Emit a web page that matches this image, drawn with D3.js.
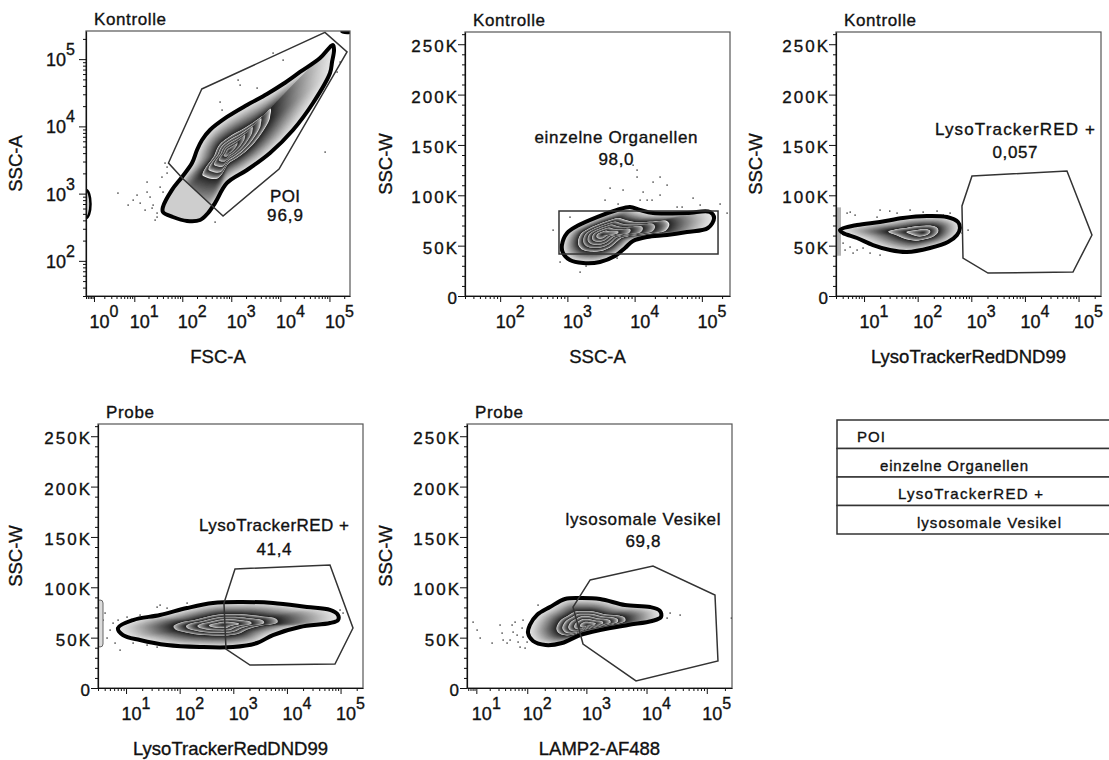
<!DOCTYPE html>
<html>
<head>
<meta charset="utf-8">
<script src="https://cdn.jsdelivr.net/npm/d3@7"></script>
<style>
  body { margin: 0; background: #fff; }
  svg { display: block; font-family: "Liberation Sans", Arial, sans-serif; }
  text { fill: #111; stroke: #111; stroke-width: 0.35px; }
</style>
</head>
<body>
<svg id="chart" width="1109" height="760"></svg>
<script>
const FULL = 262144;

// axis ticks
const linTicks = [0, 50000, 100000, 150000, 200000, 250000];
const linTickLabels = ["0", "50K", "100K", "150K", "200K", "250K"];

// names
const sampleNames = ["Kontrolle", "Kontrolle", "Kontrolle", "Probe", "Probe"];
const xNames = ["FSC-A", "SSC-A", "LysoTrackerRedDND99", "LysoTrackerRedDND99", "LAMP2-AF488"];
const yNames = ["SSC-A", "SSC-W", "SSC-W", "SSC-W", "SSC-W"];
const gateNames = ["POI", "einzelne Organellen", "LysoTrackerRED +", "LysoTrackerRED +", "lysosomale Vesikel"];
const gateFreqs = ["96,9", "98,0", "0,057", "41,4", "69,8"];
const hierarchy = ["POI", "einzelne Organellen", "LysoTrackerRED +", "lysosomale Vesikel"];

// panel 1: FSC-A vs SSC-A
const p1Contour = [[40,632],[61,1130],[99,1770],[158,2850],[200,4450],[253,6270],[368,8830],[819,13800],
  [2093,20800],[5350,30340],[11330,42660],[25160,64420],[64300,104000],[103000,152000],[118000,162000],
  [124000,137000],[113000,90800],[102700,62230],[46300,22280],[18100,8830],[6155,4018],[2093,2244],
  [819,1439],[466,724],[336,515],[231,405],[125,392],[64,449],[40,532]];
const p1Core = [900, 4300];
const p1Levels = [1, 0.4, 0.31, 0.23, 0.16, 0.09];
const p1Gate = [[250,36000],[81000,250000],[228000,128000],[9400,2320],[680,465],[104,1650],[52,2850]];
const p1Dots = [[7085,123400],[1372,48980],[589,23070],[3347,37240],[1507,41210],[647,17540],[44,2853],
  [48.5,2026],[38,1766],[142700,64420],[164300,90780],[81270,4159],[4.3,1021],[9.4,803],[13.3,724],
  [21.5,891],[24.9,677],[30.1,515],[34.8,1253],[48.5,2488],[18.6,1489],[30.1,449],[16.9,570],[11.4,953],
  [27.4,405],[7.3,677],[11330,97000],[466,378],[23.7,611],[40,1057],[18.6,1057]];

// panel 2: SSC-A vs SSC-W
const p2Contour = [[830,50600],[990,62600],[1390,69500],[2760,78400],[5470,85400],[8530,88400],[12000,85400],
  [18800,82400],[60100,82400],[132000,83400],[152000,77500],[123000,67500],[60100,63600],[30300,60600],
  [15300,58600],[9460,54600],[7190,47700],[5100,39700],[3050,33800],[1710,32800],[1090,35700],[860,42700]];
const p2Core = [3300, 61000];
const p2Levels = [1, 0.6, 0.48, 0.37, 0.26, 0.15];
const p2Gate = [[750,84400],[174000,84400],[174000,41700],[750,41700]];
const p2Dots = [[9460,130000],[10840,118200],[4300,107200],[6710,105300],[13330,103300],[18750,113200],
  [23830,118200],[30300,110200],[18100,95300],[12020,95300],[73800,97300],[186200,91400],[236600,82400],
  [5660,91400],[1090,78400],[611,65500],[1090,42700],[776,33800],[1540,23800],[5470,37700],[15300,95300],
  [42700,88400],[50700,88400],[3620,95300],[10840,125100],[23830,100300],[94000,90400],[1890,29800]];

// panel 3: LysoTracker (Kontrolle)
const p3Contour = [[3.56,65500],[7.39,70500],[19.8,73500],[53.2,77500],[149,79400],[352,78400],[565,73500],
  [615,67500],[541,60600],[367,53600],[170,47700],[63.2,43700],[30.5,45700],[14.7,50600],[7.39,57600],[4.05,62600]];
const p3Core = [125, 63000];
const p3Levels = [1, 0.42, 0.2];
const p3Gate = [[1030,119200],[60800,124100],[177800,60600],[78700,23800],[2047,22800],[700,37700],[670,89400]];
const p3Dots = [[4.81,82400],[6.78,80400],[19.8,85400],[41.1,82400],[71.9,85400],[126,83400],[229,84400],
  [401,82400],[17.4,78400],[4.05,52600],[5.47,48700],[7.39,45700],[9.55,47700],[12.9,42700],[19.8,40700],
  [4.41,45700],[6.22,42700],[670,62600],[867,65500],[5.5,83400],[30,84400],[300,80400]];
const p3EdgeLeft = [40000, 88000];

// panel 4: LysoTracker (Probe)
const p4Contour = [[7.08,59600],[13.5,67500],[43,72500],[137,79400],[418,84400],[1333,85400],[5500,84400],
  [23650,80400],[63500,77500],[89500,72500],[89500,67500],[63500,64500],[17530,60600],[5500,52600],
  [2767,44700],[986,40700],[239,40700],[58,42700],[18.2,47700],[8.77,52600]];
const p4Core = [650, 62600];
const p4Levels = [1, 0.48, 0.36, 0.25, 0.14];
const p4Gate = [[1076,118200],[63500,122100],[170600,59600],[78700,23800],[2047,22800],[731,38700],[670,84400]];
const p4Dots = [[5.71,64500],[5.02,57600],[4.41,49700],[6.22,44700],[3.72,67500],[7.08,67500],[10.4,70500],
  [18.2,72500],[37.8,80400],[58,79400],[137,84400],[43,82400],[13.5,44700],[24.6,42700],[37.8,40700],
  [97500,77500],[111000,74500],[4.05,74500],[7.71,37700]];
const p4EdgeLeft = [40700, 87400];

// panel 5: LAMP2 (Probe)
const p5Contour = [[111,62600],[147,72500],[245,80400],[439,88400],[783,89400],[1688,88400],[4390,82400],
  [11435,80400],[16755,76500],[17410,70500],[12337,66500],[4925,62600],[1688,57600],[783,52600],
  [391,44700],[206,42700],[126,46700],[103,54600]];
const p5Core = [1024, 62600];
const p5Levels = [1, 0.52, 0.42, 0.32, 0.22, 0.12];
const p5Gate = [[1150,107200],[12800,121100],[136800,92300],[153400,26800],[6690,7000],[879,43700],[598,80400]];
const p5Dots = [[32,62600],[35,54600],[36.6,47700],[53.6,62600],[55.9,55600],[66,52600],[68.7,45700],
  [80.9,59600],[84,50600],[49.3,47700],[22.3,44700],[43.4,44700],[99,45700],[60.7,65500],[8.2,65500],
  [10.4,57600],[24560,74500],[35980,72500],[21885,69500],[153,82400],[84,67500],[74.5,40700],[91.3,39700],
  [255000,69500],[12.3,49700]];

const panels = [
  { box: [86, 31, 350, 296], x: { type: "symlog", c: 0.6, min: 0.5 }, y: { type: "log", min: 30 },
    xTicks: [1, 10, 100, 1000, 10000, 100000], xExps: ["0", "1", "2", "3", "4", "5"],
    yTicks: [100, 1000, 10000, 100000], yExps: ["2", "3", "4", "5"],
    contour: p1Contour, core: p1Core, levels: p1Levels, gate: p1Gate, dots: p1Dots, fadeOutside: true,
    yTitleOff: 64, titleLen: 72, lab: { dx: 199, dy: [171, 190], len: [30, 36] } },
  { box: [465, 32, 730, 296], x: { type: "log", min: 30 }, y: { type: "lin" },
    xTicks: [100, 1000, 10000, 100000], xExps: ["2", "3", "4", "5"],
    contour: p2Contour, core: p2Core, levels: p2Levels, gate: p2Gate, dots: p2Dots,
    yTitleOff: 73, titleLen: 72, lab: { dx: 151, dy: [111, 133], len: [163, 35] } },
  { box: [836, 32, 1101, 296], x: { type: "log", min: 3 }, y: { type: "lin" },
    xTicks: [10, 100, 1000, 10000, 100000], xExps: ["1", "2", "3", "4", "5"],
    contour: p3Contour, core: p3Core, levels: p3Levels, gate: p3Gate, dots: p3Dots, edgeLeft: p3EdgeLeft,
    yTitleOff: 74, titleLen: 72, lab: { dx: 179, dy: [103, 126], len: [160, 45] } },
  { box: [98, 424, 363, 688], x: { type: "log", min: 3 }, y: { type: "lin" },
    xTicks: [10, 100, 1000, 10000, 100000], xExps: ["1", "2", "3", "4", "5"],
    contour: p4Contour, core: p4Core, levels: p4Levels, gate: p4Gate, dots: p4Dots, edgeLeft: p4EdgeLeft, edgeOutline: true,
    yTitleOff: 76, titleLen: 48, lab: { dx: 176, dy: [107, 131], len: [150, 35] } },
  { box: [467, 424, 732, 688], x: { type: "symlog", c: 5, min: 5.5 }, y: { type: "lin" },
    xTicks: [10, 100, 1000, 10000, 100000], xExps: ["1", "2", "3", "4", "5"],
    contour: p5Contour, core: p5Core, levels: p5Levels, gate: p5Gate, dots: p5Dots,
    yTitleOff: 75, titleLen: 48, lab: { dx: 176, dy: [101, 123], len: [155, 35] } }
];

const svg = d3.select("#chart");
const defs = svg.append("defs");
const smooth = d3.line().curve(d3.curveCatmullRomClosed.alpha(0.5));
const outerShade = d3.interpolateRgb("#e6e6e6", "#232323");
const innerShade = d3.interpolateRgb("#f0f0f0", "#262626");

function makeScale(spec, range) {
  let s;
  if (spec.type === "log") s = d3.scaleLog().domain([spec.min, FULL]);
  else if (spec.type === "symlog") s = d3.scaleSymlog().constant(spec.c).domain([spec.min, FULL]);
  else s = d3.scaleLinear().domain([0, FULL]);
  return s.range(range);
}

function minorLog(min) {
  const out = [];
  for (let e = -1; e <= 5; e++) {
    for (let m = 2; m <= 9; m++) {
      const v = m * Math.pow(10, e);
      if (v >= min && v <= FULL) out.push(v);
    }
  }
  return out;
}

function minorLin() {
  const out = [];
  for (let v = 10000; v <= 260000; v += 10000) if (v % 50000 !== 0) out.push(v);
  return out;
}

function drawPopulation(plot, xs, ys, p, idx) {
  const pts = p.contour.map(d => [xs(d[0]), ys(d[1])]);
  const c = [xs(p.core[0]), ys(p.core[1])];
  const lv = p.levels.concat([0]);
  const nSteps = 110;
  for (let i = 0; i < nSteps; i++) {
    const s = 1 - i / nSteps;
    let k = 0;
    while (k < lv.length - 2 && s <= lv[k + 1]) k++;
    const t = (lv[k] - s) / (lv[k] - lv[k + 1]);
    const col = k === 0 ? outerShade(Math.pow(t, 1.3)) : innerShade(Math.pow(t, 0.55));
    plot.append("path")
      .attr("d", smooth(pts.map(q => [c[0] + s * (q[0] - c[0]), c[1] + s * (q[1] - c[1])])))
      .attr("fill", col);
  }

  // events outside the gate look lighter
  if (p.fadeOutside) {
    const gpx = p.gate.map(d => [xs(d[0]), ys(d[1])]);
    const [x0, x1] = xs.range(), [y0, y1] = ys.range();
    const cid = "fade" + idx;
    defs.append("clipPath").attr("id", cid).append("path")
      .attr("clip-rule", "evenodd")
      .attr("d", `M${x0},${y1}H${x1}V${y0}H${x0}Z M${gpx.join("L")}Z`);
    plot.append("path").attr("d", smooth(pts))
      .attr("fill", "#cecece").attr("clip-path", `url(#${cid})`);
  }

  plot.append("path").attr("d", smooth(pts))
    .attr("fill", "none").attr("stroke", "#000").attr("stroke-width", 4)
    .attr("stroke-linejoin", "round");
}

function drawPanel(p, i) {
  const [l, t, r, b] = p.box;
  const xs = makeScale(p.x, [l, r]);
  const ys = makeScale(p.y, [b, t]);
  const g = svg.append("g");

  const clipId = "clip" + i;
  defs.append("clipPath").attr("id", clipId).append("rect")
    .attr("x", l).attr("y", t).attr("width", r - l).attr("height", b - t);
  const plot = g.append("g").attr("clip-path", `url(#${clipId})`);

  // stray events
  plot.selectAll(".dot").data(p.dots).join("rect")
    .attr("class", "dot")
    .attr("x", d => xs(d[0]) - 0.6).attr("y", d => ys(d[1]) - 0.6)
    .attr("width", 1.4).attr("height", 1.4).attr("fill", "#3a3a3a");

  // events piled on the left edge
  if (p.edgeLeft) {
    plot.append("rect")
      .attr("x", l - 1).attr("y", ys(p.edgeLeft[1]))
      .attr("width", 6).attr("height", ys(p.edgeLeft[0]) - ys(p.edgeLeft[1]))
      .attr("rx", p.edgeOutline ? 3 : 0)
      .attr("fill", p.edgeOutline ? "#dcdcdc" : "#9a9a9a")
      .attr("stroke", p.edgeOutline ? "#666" : "none")
      .attr("opacity", p.edgeOutline ? 1 : 0.75);
  }
  if (i === 0) {
    plot.append("ellipse")
      .attr("cx", l).attr("cy", ys(700)).attr("rx", 4.5).attr("ry", 14)
      .attr("fill", "#d0d0d0").attr("stroke", "#000").attr("stroke-width", 2.5);
    plot.append("ellipse")
      .attr("cx", xs(230000)).attr("cy", ys(255000)).attr("rx", 7).attr("ry", 2.5)
      .attr("fill", "#000");
  }

  drawPopulation(plot, xs, ys, p, i);

  // gate
  g.append("path")
    .attr("d", "M" + p.gate.map(d => [xs(d[0]), ys(d[1])]).join("L") + "Z")
    .attr("fill", "none").attr("stroke", "#333").attr("stroke-width", 1.5)
    .attr("stroke-linejoin", "miter");

  // frame
  g.append("rect").attr("x", l).attr("y", t).attr("width", r - l).attr("height", b - t)
    .attr("fill", "none").attr("stroke", "#555").attr("stroke-width", 1.2);

  // x axis
  const xMinor = minorLog(p.x.min);
  const gx = g.append("g").attr("transform", `translate(0,${b})`);
  gx.append("g").call(d3.axisBottom(xs).tickValues(xMinor).tickSize(3).tickSizeOuter(0).tickFormat(""))
    .select(".domain").remove();
  gx.append("g").call(d3.axisBottom(xs).tickValues(p.xTicks).tickSize(6).tickSizeOuter(0).tickFormat(""));
  gx.selectAll("line").attr("stroke", "#111");
  gx.selectAll(".domain").attr("stroke", "#111").attr("stroke-width", 1.2);
  p.xTicks.forEach((v, k) => {
    const tx = g.append("text")
      .attr("x", xs(v) + 10).attr("y", b + 32)
      .attr("text-anchor", "middle").style("font-size", "18px");
    tx.append("tspan").text("10");
    tx.append("tspan").attr("dy", -11).style("font-size", "16px").text(p.xExps[k]);
  });

  // y axis
  const gy = g.append("g").attr("transform", `translate(${l},0)`);
  if (p.y.type === "log") {
    gy.append("g").call(d3.axisLeft(ys).tickValues(minorLog(p.y.min)).tickSize(3).tickSizeOuter(0).tickFormat(""))
      .select(".domain").remove();
    gy.append("g").call(d3.axisLeft(ys).tickValues(p.yTicks).tickSize(7).tickSizeOuter(0).tickFormat(""));
    p.yTicks.forEach((v, k) => {
      const ty = g.append("text")
        .attr("x", l - 11).attr("y", ys(v) + 7)
        .attr("text-anchor", "end").style("font-size", "18px");
      ty.append("tspan").text("10");
      ty.append("tspan").attr("dy", -11).style("font-size", "16px").text(p.yExps[k]);
    });
  } else {
    gy.append("g").call(d3.axisLeft(ys).tickValues(minorLin()).tickSize(3).tickSizeOuter(0).tickFormat(""))
      .select(".domain").remove();
    gy.append("g").call(d3.axisLeft(ys).tickValues(linTicks).tickSize(7).tickSizeOuter(0).tickFormat(""));
    linTicks.forEach((v, k) => {
      g.append("text")
        .attr("x", l - 6).attr("y", ys(v) + 8)
        .attr("text-anchor", "end")
        .style("font-size", "17px").style("letter-spacing", "2px")
        .text(linTickLabels[k]);
    });
  }
  gy.selectAll("line").attr("stroke", "#111");
  gy.selectAll(".domain").attr("stroke", "#111").attr("stroke-width", 1.2);

  // titles
  g.append("text").attr("x", l + 8).attr("y", t - 6)
    .style("font-size", "17px").attr("textLength", p.titleLen).attr("lengthAdjust", "spacing")
    .text(sampleNames[i]);
  g.append("text").attr("x", (l + r) / 2).attr("y", b + 67)
    .attr("text-anchor", "middle").style("font-size", "18.5px")
    .text(xNames[i]);
  g.append("text")
    .attr("transform", `translate(${l - p.yTitleOff},${(t + b) / 2}) rotate(-90)`)
    .attr("text-anchor", "middle").style("font-size", "18.5px")
    .text(yNames[i]);

  // gate label
  [gateNames[i], gateFreqs[i]].forEach((s, k) => {
    g.append("text")
      .attr("x", l + p.lab.dx).attr("y", t + p.lab.dy[k])
      .attr("text-anchor", "middle").style("font-size", "17px")
      .attr("textLength", p.lab.len[k]).attr("lengthAdjust", "spacing")
      .text(s);
  });
}

panels.forEach(drawPanel);

// gating hierarchy
const legendIndent = [20, 43, 61, 80];
const legendLen = [28, 148, 145, 144];
const lg = svg.append("g");
hierarchy.forEach((name, k) => {
  const y0 = 420 + k * 28.5;
  lg.append("rect").attr("x", 837).attr("y", y0).attr("width", 290).attr("height", 28.5)
    .attr("fill", "#fff").attr("stroke", "#333").attr("stroke-width", 1.5);
  lg.append("text").attr("x", 837 + legendIndent[k]).attr("y", y0 + 22)
    .style("font-size", "15px").attr("textLength", legendLen[k]).attr("lengthAdjust", "spacing")
    .text(name);
});
</script>
</body>
</html>
